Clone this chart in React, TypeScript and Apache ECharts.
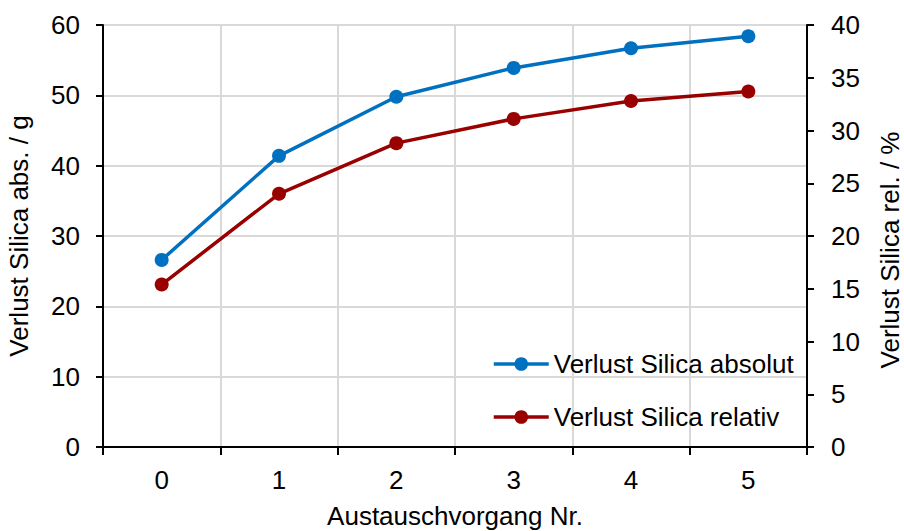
import React, { useEffect, useRef } from "react";
import * as echarts from "echarts";

const categories = ["0", "1", "2", "3", "4", "5"];
const absolutValues = [26.6, 41.4, 49.8, 53.9, 56.7, 58.4];
const relativValues = [15.4, 24.0, 28.8, 31.1, 32.8, 33.7];
const seriesNames = ["Verlust Silica absolut", "Verlust Silica relativ"];
const xAxisName = "Austauschvorgang Nr.";
const leftAxisName = "Verlust Silica abs. / g";
const rightAxisName = "Verlust Silica rel. / %";

const FONT = "Liberation Sans, Arial, sans-serif";
const FS = 26;

export default function App() {
  const ref = useRef<HTMLDivElement>(null);
  useEffect(() => {
    if (!ref.current) return;
    const chart = echarts.init(ref.current, null, { renderer: "svg" });
    const axisLine = { show: true, lineStyle: { color: "#000", width: 2 } };
    const label = { color: "#000", fontSize: FS, fontFamily: FONT };
    const nameStyle = { color: "#000", fontSize: FS, fontFamily: FONT };
    chart.setOption({
      animation: false,
      backgroundColor: "#fff",
      textStyle: { fontFamily: FONT },
      grid: {
        left: 103,
        right: 97,
        top: 25,
        bottom: 84,
        containLabel: false,
        outerBoundsMode: "none",
      },
      legend: {
        orient: "vertical",
        left: 492,
        top: 351,
        padding: 0,
        itemWidth: 55,
        itemHeight: 17,
        itemGap: 27,
        lineStyle: { width: 3.5 },
        textStyle: { color: "#000", fontSize: FS, fontFamily: FONT, lineHeight: 26 },
        data: seriesNames,
      },
      xAxis: {
        type: "category",
        data: categories,
        boundaryGap: true,
        axisLine,
        axisTick: { show: true, length: 8, lineStyle: { color: "#000", width: 2 } },
        axisLabel: { ...label, margin: 20 },
        splitLine: { show: true, lineStyle: { color: "#d9d9d9", width: 2 } },
        name: xAxisName,
        nameLocation: "middle",
        nameGap: 56,
        nameTextStyle: nameStyle,
      },
      yAxis: [
        {
          type: "value",
          min: 0,
          max: 60,
          interval: 10,
          position: "left",
          axisLine,
          axisTick: { show: true, length: 7, lineStyle: { color: "#000", width: 2 } },
          axisLabel: { ...label, margin: 23 },
          splitLine: { show: true, lineStyle: { color: "#d9d9d9", width: 2 } },
          name: leftAxisName,
          nameLocation: "middle",
          nameGap: 71,
          nameTextStyle: nameStyle,
        },
        {
          type: "value",
          min: 0,
          max: 40,
          interval: 5,
          position: "right",
          axisLine,
          axisTick: { show: true, length: 7, lineStyle: { color: "#000", width: 2 } },
          axisLabel: { ...label, margin: 24 },
          splitLine: { show: false },
          name: rightAxisName,
          nameLocation: "middle",
          nameGap: 70,
          nameTextStyle: { ...nameStyle, padding: [0, 28, 0, 0] },
        },
      ],
      series: [
        {
          name: seriesNames[0],
          type: "line",
          yAxisIndex: 0,
          data: absolutValues,
          symbol: "circle",
          symbolSize: 14,
          lineStyle: { color: "#0070C0", width: 3.5 },
          itemStyle: { color: "#0070C0" },
        },
        {
          name: seriesNames[1],
          type: "line",
          yAxisIndex: 1,
          data: relativValues,
          symbol: "circle",
          symbolSize: 14,
          lineStyle: { color: "#990000", width: 3.5 },
          itemStyle: { color: "#990000" },
        },
      ],
    });
    return () => chart.dispose();
  }, []);
  return (
    <div
      ref={ref}
      style={{ position: "absolute", left: 0, top: 0, width: 904, height: 531 }}
    />
  );
}
